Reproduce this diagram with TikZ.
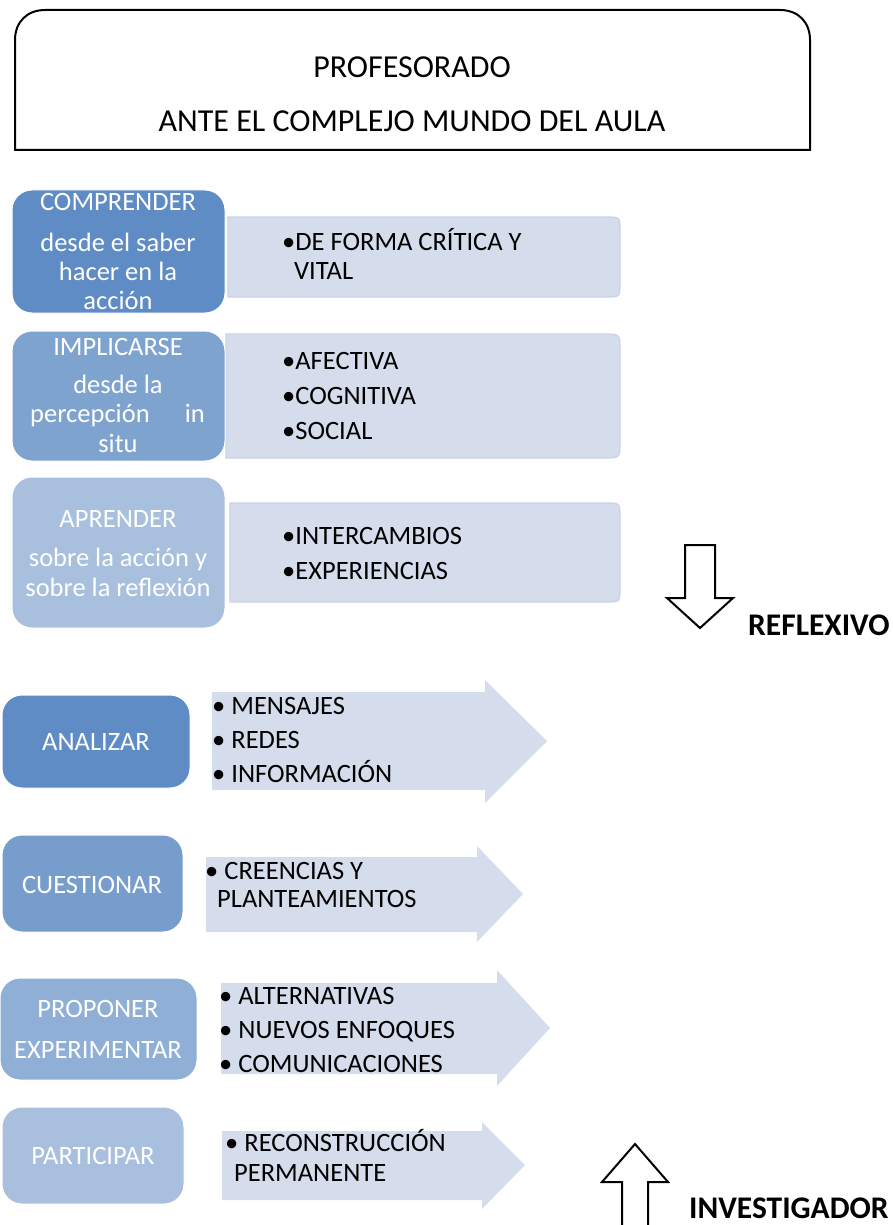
\documentclass[tikz,border=0pt]{standalone}
\usepackage{fontspec}
\setmainfont{Carlito}
\begin{document}
\begin{tikzpicture}[x=1pt,y=-1pt,
  lbox/.style={rounded corners=20pt, draw=white, line width=1pt, inner sep=0pt},
  panel/.style={fill=pale, draw=paleedge, line width=1.2pt},
  flow/.style={fill=pale},
  outl/.style={draw=black, line width=2pt, line join=miter, fill=white},
  wt/.style={text=white, font=\fontsize{26.5}{30}\selectfont, inner sep=0pt, anchor=base},
  bt/.style={text=black, font=\fontsize{26.5}{30}\selectfont, inner sep=0pt, anchor=base west},
  big/.style={text=black, font=\fontsize{32}{36}\selectfont, inner sep=0pt, anchor=base},
  bold/.style={text=black, font=\fontsize{31.5}{36}\selectfont\bfseries, inner sep=0pt, anchor=base west}]
\definecolor{pale}{HTML}{D5DCEB}
\definecolor{paleedge}{HTML}{C9D2E5}
\definecolor{blueA}{HTML}{5F8CC5}
\definecolor{blueB}{HTML}{7FA3CF}
\definecolor{blueC}{HTML}{A8C0DE}
\definecolor{blueD}{HTML}{779DCD}
\definecolor{blueE}{HTML}{8FAFD6}

\useasboundingbox (0,0) rectangle (893,1225);

% heading frame, round at the top only
\draw[line width=2pt] (15,150) -- (15,40) .. controls (15,22) and (27,10) .. (45,10)
  -- (780,10) .. controls (798,10) and (810,22) .. (810,40) -- (810,150) -- cycle;
\node[big] (h1) at (412,78) {PROFESORADO};
\node[big] (h2) at (412,132) {ANTE EL COMPLEJO MUNDO DEL AULA};

% first block: panels with rounded right side
\path[panel] (228,217) -- (606,217) .. controls (620,217) .. (620,231) -- (620,283) .. controls (620,297) .. (606,297) -- (228,297) -- cycle;
\path[panel] (226,334) -- (604,334) .. controls (620,334) .. (620,350) -- (620,442) .. controls (620,458) .. (604,458) -- (226,458) -- cycle;
\path[panel] (230,503) -- (606,503) .. controls (620,503) .. (620,517) -- (620,588) .. controls (620,602) .. (606,602) -- (230,602) -- cycle;

\node[lbox, fill=blueA, minimum width=213pt, minimum height=123pt] (comp) at (118.5,251.5) {};
\node[lbox, fill=blueB, minimum width=213pt, minimum height=130pt] (impl) at (118.5,396) {};
\node[lbox, fill=blueC, minimum width=213pt, minimum height=151pt] (apre) at (118.5,552.5) {};

\node[wt] (c1) at (118,211) {COMPRENDER};
\node[wt] (c2) at (118,251) {desde el saber};
\node[wt] (c3) at (118,280) {hacer en la};
\node[wt] (c4) at (118,309) {acción};

\node[wt] (i1) at (118,355) {IMPLICARSE};
\node[wt] (i2) at (118,393) {desde la};
\node[wt, anchor=base west] (i3) at (30,422) {percepción};
\node[wt, anchor=base east] (i4) at (205,422) {in};
\node[wt] (i5) at (118,452) {situ};

\node[wt] (a1) at (118,527) {APRENDER};
\node[wt] (a2) at (118,566) {sobre la acción y};
\node[wt] (a3) at (118,596) {sobre la reflexión};

\node[bt] (p1) at (282,250) {•DE FORMA CRÍTICA Y};
\node[bt] (p2) at (294,279) {VITAL};
\node[bt] (p3) at (282,369) {•AFECTIVA};
\node[bt] (p4) at (282,404) {•COGNITIVA};
\node[bt] (p5) at (282,439) {•SOCIAL};
\node[bt] (p6) at (282,544) {•INTERCAMBIOS};
\node[bt] (p7) at (282,579) {•EXPERIENCIAS};

% hollow downward arrow
\draw[outl] (685,545) -- (715,545) -- (715,598) -- (733,598) -- (700,628) -- (667,598) -- (685,598) -- cycle;
\node[bold] (refl) at (748,635) {REFLEXIVO};

% second block: block arrows
\path[flow] (212,692) -- (485,692) -- (485,680) -- (547,741) -- (485,803) -- (485,790) -- (212,790) -- cycle;
\path[flow] (206,857) -- (477,857) -- (477,846) -- (523,894) -- (477,942) -- (477,932) -- (206,932) -- cycle;
\path[flow] (221,983) -- (497,983) -- (497,970) -- (550,1028) -- (497,1086) -- (497,1074) -- (221,1074) -- cycle;
\path[flow] (222,1131) -- (482,1131) -- (482,1122) -- (525,1165) -- (482,1209) -- (482,1200) -- (222,1200) -- cycle;

\node[lbox, fill=blueA, minimum width=188pt, minimum height=93pt] (anal) at (96,741.5) {};
\node[lbox, fill=blueD, minimum width=181pt, minimum height=97pt] (cues) at (92.5,883.5) {};
\node[lbox, fill=blueE, minimum width=197pt, minimum height=102pt] (prop) at (98.5,1029) {};
\node[lbox, fill=blueC, minimum width=182pt, minimum height=97pt] (part) at (93,1155.5) {};

\node[wt] (n1) at (96,750) {ANALIZAR};
\node[wt] (n2) at (92,893) {CUESTIONAR};
\node[wt] (n3) at (98,1017) {PROPONER};
\node[wt] (n4) at (98,1058) {EXPERIMENTAR};
\node[wt] (n5) at (93,1164) {PARTICIPAR};

\node[bt] (q1) at (212,714) {• MENSAJES};
\node[bt] (q2) at (212,748) {• REDES};
\node[bt] (q3) at (212,782) {• INFORMACIÓN};
\node[bt] (q4) at (205,879) {• CREENCIAS Y};
\node[bt] (q5) at (217,907) {PLANTEAMIENTOS};
\node[bt] (q6) at (219,1004) {• ALTERNATIVAS};
\node[bt] (q7) at (219,1038) {• NUEVOS ENFOQUES};
\node[bt] (q8) at (219,1072) {• COMUNICACIONES};
\node[bt] (q9) at (225,1151) {• RECONSTRUCCIÓN};
\node[bt] (q10) at (234,1181) {PERMANENTE};

% hollow upward arrow
\draw[outl] (622,1240) -- (622,1182) -- (602,1182) -- (635,1144) -- (668,1182) -- (648,1182) -- (648,1240);
\node[bold] (inve) at (689,1218) {INVESTIGADOR};
\end{tikzpicture}
\end{document}
